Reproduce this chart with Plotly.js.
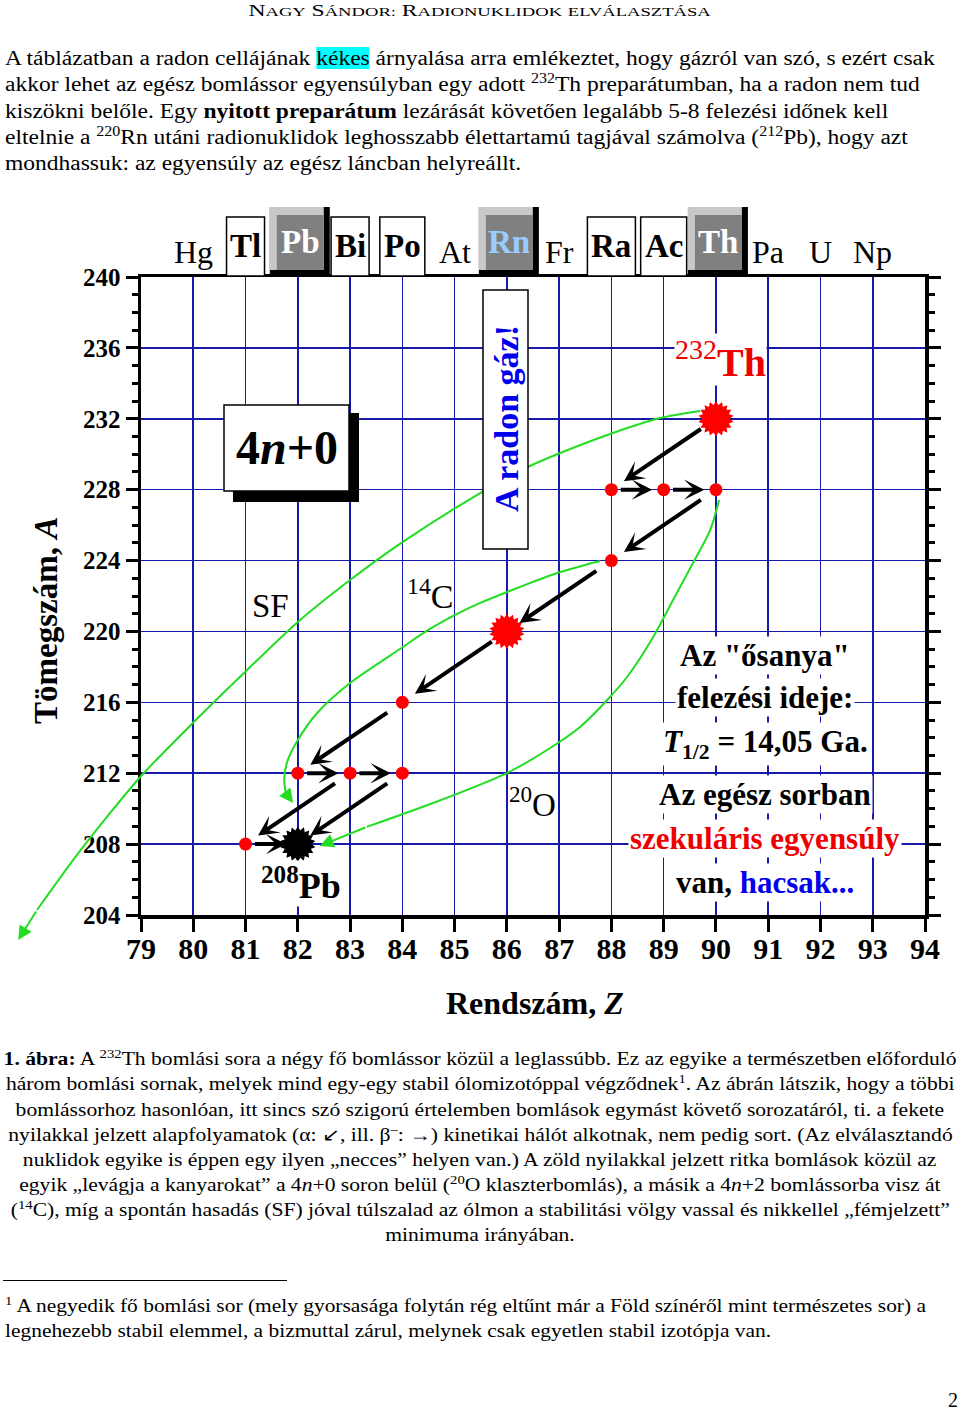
<!DOCTYPE html>
<html lang="hu">
<head>
<meta charset="utf-8">
<script src="https://cdn.plot.ly/plotly-3.0.1.min.js"></script>
<style>
html,body{margin:0;padding:0;background:#fff;}
body{width:960px;height:1410px;position:relative;overflow:hidden;font-family:"Liberation Serif","Times New Roman",serif;color:#000;}
#chart{position:absolute;left:0;top:0;width:960px;height:1410px;z-index:0;}
.txt{position:absolute;z-index:1;white-space:nowrap;}
sup{font-size:0.68em;line-height:0;vertical-align:baseline;position:relative;top:-0.6em;}
.hdr{left:0;top:0px;width:960px;text-align:center;line-height:22px;}
.hdr span.r{display:inline-block;}
.hdr .b{font-size:16.5px;}
.hdr .s{font-size:13px;}
.para{left:5px;top:45px;font-size:20px;line-height:26.3px;transform:scaleX(1.175);transform-origin:0 0;}
.hl{background:#00ffff;}
.cap{left:0;width:960px;top:1047.4px;font-size:18px;line-height:25.1px;text-align:center;}
.cap div{height:25.1px;}
.cap span.r{display:inline-block;transform:scaleX(1.2);}
.rule{position:absolute;z-index:1;left:3px;top:1280px;width:284px;height:0;border-top:1px solid #000;}
.foot{left:5px;top:1294.4px;font-size:18px;line-height:25px;transform:scaleX(1.19);transform-origin:0 0;}
.pnum{right:2px;top:1389px;font-size:20px;line-height:22px;}
</style>
</head>
<body>
<div id="chart"></div>

<div class="txt hdr"><span class="r" id="hdr"><span class="b">N</span><span class="s">AGY</span> <span class="b">S</span><span class="s">ÁNDOR</span><span class="s">:</span> <span class="b">R</span><span class="s">ADIONUKLIDOK</span> <span class="s">ELVÁLASZTÁSA</span></span></div>

<div class="txt para">A táblázatban a radon cellájának <span class="hl">kékes</span> árnyalása arra emlékeztet, hogy gázról van szó, s ezért csak<br>akkor lehet az egész bomlássor egyensúlyban egy adott <sup>232</sup>Th preparátumban, ha a radon nem tud<br>kiszökni belőle. Egy <b>nyitott preparátum</b> lezárását követően legalább 5-8 felezési időnek kell<br>eltelnie a <sup>220</sup>Rn utáni radionuklidok leghosszabb élettartamú tagjával számolva (<sup>212</sup>Pb), hogy azt<br>mondhassuk: az egyensúly az egész láncban helyreállt.</div>

<div class="txt cap">
<div><span class="r"><b>1. ábra:</b> A <sup>232</sup>Th bomlási sora a négy fő bomlássor közül a leglassúbb. Ez az egyike a természetben előforduló</span></div>
<div><span class="r">három bomlási sornak, melyek mind egy-egy stabil ólomizotóppal végződnek<sup>1</sup>. Az ábrán látszik, hogy a többi</span></div>
<div><span class="r">bomlássorhoz hasonlóan, itt sincs szó szigorú értelemben bomlások egymást követő sorozatáról, ti. a fekete</span></div>
<div><span class="r">nyilakkal jelzett alapfolyamatok (α: ↙, ill. β<sup>–</sup>: →) kinetikai hálót alkotnak, nem pedig sort. (Az elválasztandó</span></div>
<div><span class="r">nuklidok egyike is éppen egy ilyen „necces” helyen van.) A zöld nyilakkal jelzett ritka bomlások közül az</span></div>
<div><span class="r">egyik „levágja a kanyarokat” a 4<i>n</i>+0 soron belül (<sup>20</sup>O klaszterbomlás), a másik a 4<i>n</i>+2 bomlássorba visz át</span></div>
<div><span class="r">(<sup>14</sup>C), míg a spontán hasadás (SF) jóval túlszalad az ólmon a stabilitási völgy vassal és nikkellel „fémjelzett”</span></div>
<div><span class="r">minimuma irányában.</span></div>
</div>

<div class="rule"></div>
<div class="txt foot"><sup>1</sup> A negyedik fő bomlási sor (mely gyorsasága folytán rég eltűnt már a Föld színéről mint természetes sor) a<br>legnehezebb stabil elemmel, a bizmuttal zárul, melynek csak egyetlen stabil izotópja van.</div>
<div class="txt pnum">2</div>

<script>
// fit the running header to the width it has in the reference
(function(){ const h = document.getElementById('hdr'); const w = h.offsetWidth; if (w > 0) h.style.transform = 'scaleX(' + (462 / w) + ')'; })();

// ---------------- DATA ----------------
// nuclides of the 4n+0 (thorium) series
const nuclideName = ['232Th','228Ra','228Ac','228Th','224Ra','220Rn','216Po','212Pb','212Bi','212Po','208Tl','208Pb'];
const nuclideZ    = [90, 88, 89, 90, 88, 86, 84, 82, 83, 84, 81, 82];
const nuclideA    = [232, 228, 228, 228, 224, 220, 216, 212, 212, 212, 208, 208];
const burstRed    = ['232Th', '220Rn'];
const burstBlack  = ['208Pb'];

// alpha decays (black diagonal arrows)
const alphaFromZ = [90, 90, 88, 86, 84, 83, 84];
const alphaFromA = [232, 228, 224, 220, 216, 212, 212];
const alphaToZ   = [88, 88, 86, 84, 82, 81, 82];
const alphaToA   = [228, 224, 220, 216, 212, 208, 208];
// beta-minus decays (black horizontal arrows)
const betaFromZ = [88, 89, 82, 83, 81];
const betaFromA = [228, 228, 212, 212, 208];
const betaToZ   = [89, 90, 83, 84, 82];
const betaToA   = [228, 228, 212, 212, 208];

// rare decays (green curved arrows)
const sfZ  = [89.70, 88.93, 88.03, 87.02, 86.40, 85.49, 84.01, 83.00, 81.98, 80.99, 79.99, 79.02, 78.41, 77.70, 77.01, 76.65];
const sfA  = [232.44, 232.04, 231.20, 230.07, 229.28, 227.81, 225.05, 222.90, 220.48, 217.71, 214.83, 211.90, 209.76, 207.10, 204.28, 202.59];
const c14Z = [87.78, 87.02, 86.25, 85.49, 85.01, 84.40, 84.01, 83.00, 82.37, 82.00, 81.79, 81.74, 81.77, 81.91];
const c14A = [223.98, 223.35, 222.51, 221.61, 220.93, 219.91, 219.12, 217.09, 215.40, 213.87, 212.58, 211.62, 210.88, 210.32];
const o20Z = [90.06, 89.89, 89.56, 89.18, 88.80, 88.30, 87.92, 87.40, 86.77, 86.00, 84.74, 83.32, 82.42];
const o20A = [227.42, 225.72, 223.86, 221.77, 219.69, 217.43, 216.13, 214.61, 213.31, 212.01, 210.49, 208.97, 207.89];

// element symbols above the chart
const elemSymbol = ['Hg','Tl','Pb','Bi','Po','At','Rn','Fr','Ra','Ac','Th','Pa','U','Np'];
const elemZ      = [80, 81, 82, 83, 84, 85, 86, 87, 88, 89, 90, 91, 92, 93];

// tick values
const zTicks = [79,80,81,82,83,84,85,86,87,88,89,90,91,92,93,94];
const aTicks = [204,208,212,216,220,224,228,232,236,240];

// ---------------- STYLE / GEOMETRY ----------------
const FONT = 'Liberation Serif, Times New Roman, serif';
const GREEN = '#22dd22', RED = '#ff0000', GRID = '#1818aa', BLUE = '#0000ee', TXTRED = '#ee0000';
const W = 960, H = 1410, PL = 141, PR = 925, PT = 277, PB = 915;
const zRange = [zTicks[0], zTicks[zTicks.length-1]];
const aRange = [aTicks[0], aTicks[aTicks.length-1]];
const kx = (PR-PL)/(zRange[1]-zRange[0]);
const ky = (PB-PT)/(aRange[1]-aRange[0]);
const fx = px => px/W, fy = py => 1 - py/H;
const z2Range = [zRange[0]-PL/kx, zRange[1]+(W-PR)/kx];
const a2Range = [aRange[0]-(H-PB)/ky, aRange[1]+PT/ky];
const aMinor = [];
for (let a = aRange[0]; a <= aRange[1]; a++) if (!aTicks.includes(a)) aMinor.push(a);

const boxWhite = {Tl:38, Bi:38, Po:45, Ra:48, Ac:46};
const boxGray = {Pb:'#ffffff', Rn:'#99ccff', Th:'#ffffff'};

// ---------------- TRACES ----------------
const traces = [];
function curve(zs, as){
  traces.push({type:'scatter', mode:'lines', x:zs.slice(0,-1), y:as.slice(0,-1), xaxis:'x2', yaxis:'y2',
    line:{color:GREEN, width:2, shape:'spline', smoothing:0.8}, hoverinfo:'skip', showlegend:false});
}
curve(sfZ, sfA); curve(c14Z, c14A); curve(o20Z, o20A);

const plainIdx = nuclideName.map((n,i)=>i).filter(i => !burstRed.includes(nuclideName[i]) && !burstBlack.includes(nuclideName[i]));
traces.push({type:'scatter', mode:'markers', x:plainIdx.map(i=>nuclideZ[i]), y:plainIdx.map(i=>nuclideA[i]),
  marker:{symbol:'circle', size:13, color:RED}, hoverinfo:'skip', showlegend:false});
function burst(names, color){
  const idx = nuclideName.map((n,i)=>i).filter(i => names.includes(nuclideName[i]));
  [0,20,40].forEach(ang => traces.push({type:'scatter', mode:'markers', x:idx.map(i=>nuclideZ[i]), y:idx.map(i=>nuclideA[i]),
    marker:{symbol:'hexagram', size:27, color:color, angle:ang, line:{width:0}}, hoverinfo:'skip', showlegend:false}));
}
burst(burstRed, RED); burst(burstBlack, '#000000');

// ---------------- ANNOTATIONS ----------------
const ann = [];
function decay(fz, fa, tz, ta, t0, t1){
  ann.push({x:fz+t1*(tz-fz), y:fa+t1*(ta-fa), ax:fz+t0*(tz-fz), ay:fa+t0*(ta-fa),
    xref:'x', yref:'y', axref:'x', ayref:'y', text:'', showarrow:true,
    arrowhead:3, arrowsize:0.85, arrowwidth:4, arrowcolor:'#000', standoff:0});
}
alphaFromZ.forEach((z,i)=>decay(z, alphaFromA[i], alphaToZ[i], alphaToA[i], 0.13, 0.88));
betaFromZ.forEach((z,i)=>decay(z, betaFromA[i], betaToZ[i], betaToA[i], 0.15, 0.78));
function greenHead(zs, as){
  const n = zs.length;
  ann.push({x:zs[n-1], y:as[n-1], ax:zs[n-2], ay:as[n-2], xref:'x2', yref:'y2', axref:'x2', ayref:'y2',
    text:'', showarrow:true, arrowhead:2, arrowsize:1.4, arrowwidth:2, arrowcolor:GREEN, standoff:0});
}
greenHead(sfZ, sfA); greenHead(c14Z, c14A); greenHead(o20Z, o20A);

function label(text, px, py, size, color, extra){
  ann.push(Object.assign({x:fx(px), y:fy(py), xref:'paper', yref:'paper', text:text, showarrow:false,
    xanchor:'center', yanchor:'middle', font:{family:FONT, size:size, color:color||'#000'}}, extra||{}));
}

const shapes = [];
elemSymbol.forEach((s,i)=>{
  const z = elemZ[i];
  if (boxWhite[s]){
    const w = boxWhite[s];
    shapes.push({type:'rect', xref:'x', yref:'paper', x0:z-w/2/kx, x1:z+w/2/kx, y0:fy(276), y1:fy(217),
      fillcolor:'#ffffff', line:{color:'#000', width:1.5}, layer:'above'});
    ann.push({x:z, y:fy(245.5), xref:'x', yref:'paper', text:'<b>'+s+'</b>', showarrow:false, xanchor:'center', yanchor:'middle',
      font:{family:FONT, size:33, color:'#000'}});
  } else if (boxGray[s]){
    const c = z + 2/kx, L = c-30/kx, R = c+30/kx;
    shapes.push({type:'rect', xref:'x', yref:'paper', x0:L, x1:R, y0:fy(277), y1:fy(207), fillcolor:'#000', line:{width:0}, layer:'above'});
    shapes.push({type:'rect', xref:'x', yref:'paper', x0:L, x1:R-6/kx, y0:fy(270), y1:fy(207), fillcolor:'#c8c8c8', line:{width:0}, layer:'above'});
    shapes.push({type:'rect', xref:'x', yref:'paper', x0:L+7/kx, x1:R-6/kx, y0:fy(270), y1:fy(215), fillcolor:'#808080', line:{width:0}, layer:'above'});
    ann.push({x:c+0.5/kx, y:fy(241.5), xref:'x', yref:'paper', text:'<b>'+s+'</b>', showarrow:false, xanchor:'center', yanchor:'middle',
      font:{family:FONT, size:33, color:boxGray[s]}});
  } else {
    ann.push({x:z, y:fy(252), xref:'x', yref:'paper', text:s, showarrow:false, xanchor:'center', yanchor:'middle',
      font:{family:FONT, size:32, color:'#000'}});
  }
});

// 4n+0 box with shadow
shapes.push({type:'rect', xref:'paper', yref:'paper', x0:fx(233), x1:fx(359), y0:fy(502), y1:fy(413), fillcolor:'#000', line:{width:0}, layer:'above'});
shapes.push({type:'rect', xref:'paper', yref:'paper', x0:fx(224), x1:fx(349), y0:fy(491), y1:fy(405), fillcolor:'#fff', line:{color:'#000', width:1.5}, layer:'above'});
label('<b>4<i>n</i>+0</b>', 287, 447, 48);
// radon box
shapes.push({type:'rect', xref:'paper', yref:'paper', x0:fx(483), x1:fx(528), y0:fy(549), y1:fy(290), fillcolor:'#fff', line:{color:'#000', width:1.5}, layer:'above'});
label('<b>A radon gáz!</b>', 506, 419, 34, BLUE, {textangle:-90});

label('SF', 270, 606, 33);
label('<sup>14</sup>C', 430, 594, 34);
label('<sup>20</sup>O', 532, 802, 33);
label('<b><sup>208</sup>Pb</b>', 301, 883, 36, '#000', {bgcolor:'#fff', borderpad:0});
label('<sup>232</sup><b>Th</b>', 720, 360, 40, TXTRED, {bgcolor:'#fff', borderpad:0});

const noteLines = [
  ['<b>Az "ősanya"</b>', 655],
  ['<b>felezési ideje:</b>', 697],
  ['<b><i>T</i><sub>1/2</sub> = 14,05 Ga.</b>', 744],
  ['<b>Az egész sorban</b>', 794],
  ['<b><span style="color:'+TXTRED+'">szekuláris egyensúly</span></b>', 838],
  ['<b>van, <span style="color:'+BLUE+'">hacsak...</span></b>', 882]
];
noteLines.forEach(l => label(l[0], 765, l[1], 31, '#000', {bgcolor:'#fff', borderpad:1}));

label('<b>Rendszám, <i>Z</i></b>', 535, 1003, 32);
label('<b>Tömegszám, <i>A</i></b>', 46, 621, 33, '#000', {textangle:-90});

const tickFontX = {family:FONT, size:30, color:'#000', weight:'bold'};
const tickFontY = {family:FONT, size:25, color:'#000', weight:'bold'};

const layout = {
  width:W, height:H, margin:{l:0, r:0, t:0, b:0, pad:0, autoexpand:false},
  paper_bgcolor:'rgba(0,0,0,0)', plot_bgcolor:'rgba(0,0,0,0)',
  showlegend:false, hovermode:false, font:{family:FONT, color:'#000'},
  xaxis:{domain:[fx(PL), fx(PR)], range:zRange, tickmode:'array', tickvals:zTicks, ticktext:zTicks.map(String),
    ticks:'outside', ticklen:13, tickwidth:3, tickcolor:'#000', showline:true, linewidth:3.5, linecolor:'#000',
    mirror:true, showgrid:true, gridcolor:GRID, gridwidth:1.6, zeroline:false, tickfont:tickFontX, ticklabelstandoff:-9,
    fixedrange:true, anchor:'y'},
  yaxis:{domain:[fy(PB), fy(PT)], range:aRange, tickmode:'array', tickvals:aTicks, ticktext:aTicks.map(String),
    ticks:'outside', ticklen:12, tickwidth:3, tickcolor:'#000', showline:true, linewidth:3.5, linecolor:'#000',
    mirror:'ticks', showgrid:true, gridcolor:GRID, gridwidth:1.6, zeroline:false, tickfont:tickFontY,
    minor:{tickmode:'array', tickvals:aMinor, ticks:'outside', ticklen:6, tickwidth:3, tickcolor:'#000', showgrid:false},
    fixedrange:true, anchor:'x'},
  xaxis2:{domain:[0,1], range:z2Range, visible:false, anchor:'y2', fixedrange:true},
  yaxis2:{domain:[0,1], range:a2Range, visible:false, anchor:'x2', fixedrange:true},
  shapes:shapes, annotations:ann
};

Plotly.newPlot('chart', traces, layout, {displayModeBar:false, staticPlot:true});
</script>
</body>
</html>
